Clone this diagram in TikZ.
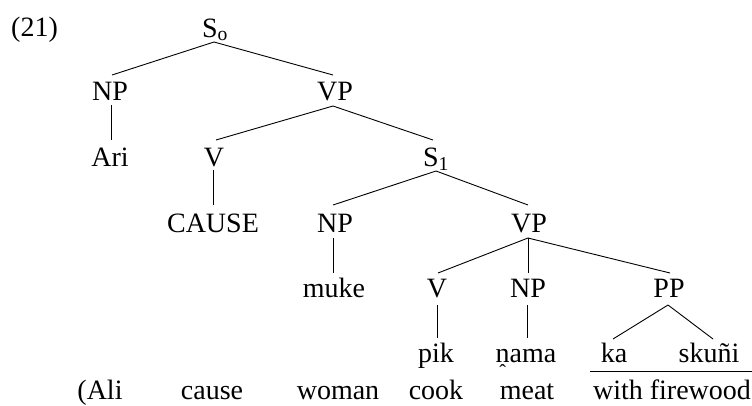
\documentclass[tikz,border=0pt]{standalone}
\usepackage{fontspec}
\setmainfont{Liberation Serif}
\newcommand\ncircbelow{\leavevmode\ooalign{n\cr\hidewidth\raisebox{-16.5pt}{\fontsize{20}{20}\selectfont\char"02C6}\hidewidth\cr}}
\begin{document}
\begin{tikzpicture}[x=1pt,y=1pt,
  lbl/.style={anchor=base,inner sep=0pt,font=\fontsize{28}{32}\selectfont},
  edge/.style={line width=0.9pt}]
\useasboundingbox (0,0) rectangle (752,-405);
% labels
\node[lbl,anchor=base west] (ex) at (11,-36) {(21)};
\node[lbl] (so) at (215,-37) {S\textsubscript{o}};
\node[lbl] (np1) at (110,-100) {NP};
\node[lbl] (vp1) at (335,-100) {VP};
\node[lbl] (ari) at (110,-166) {Ari};
\node[lbl] (v1) at (214,-166) {V};
\node[lbl] (s1) at (436,-166) {S\textsubscript{1}};
\node[lbl] (cause) at (213,-232) {CAUSE};
\node[lbl] (np2) at (335,-232) {NP};
\node[lbl] (vp2) at (529,-232) {VP};
\node[lbl] (muke) at (334,-297) {muke};
\node[lbl] (v2) at (437,-297) {V};
\node[lbl] (np3) at (528,-297) {NP};
\node[lbl] (pp) at (669,-297) {PP};
\node[lbl] (pik) at (436,-362) {pik};
\node[lbl] (nama) at (526,-362) {\ncircbelow ama};
\node[lbl] (ka) at (614,-362) {ka};
\node[lbl] (skuni) at (709,-362) {skuñi};
\node[lbl] (gali) at (100,-399) {(Ali};
\node[lbl] (gcause) at (212,-399) {cause};
\node[lbl] (gwoman) at (338,-399) {woman};
\node[lbl] (gcook) at (436,-399) {cook};
\node[lbl] (gmeat) at (527,-399) {meat};
\node[lbl] (gwith) at (672,-399) {with firewood};
% underline
\coordinate (ul1) at (590,-371);
\coordinate (ul2) at (752,-371);
\draw[edge] (ul1) -- (ul2);
% tree edges
\draw[edge] ([xshift=-1pt,yshift=-5pt]so.base) -- ([xshift=2pt,yshift=25pt]np1.base);
\draw[edge] ([xshift=-1pt,yshift=-5pt]so.base) -- ([xshift=-2pt,yshift=25pt]vp1.base);
\draw[edge] ([xshift=1pt,yshift=-5pt]np1.base) -- ([xshift=1pt,yshift=26pt]ari.base);
\draw[edge] ([xshift=-2pt,yshift=-6pt]vp1.base) -- ([xshift=2pt,yshift=26pt]v1.base);
\draw[edge] ([xshift=-2pt,yshift=-6pt]vp1.base) -- ([xshift=-3pt,yshift=26pt]s1.base);
\draw[edge] ([xshift=-1pt,yshift=-4pt]v1.base) -- ([yshift=27pt]cause.base);
\draw[edge] ([yshift=-5pt]s1.base) -- ([xshift=-2pt,yshift=27pt]np2.base);
\draw[edge] ([yshift=-5pt]s1.base) -- ([xshift=-1pt,yshift=27pt]vp2.base);
\draw[edge] ([xshift=-2pt,yshift=-6pt]np2.base) -- ([xshift=-1pt,yshift=24pt]muke.base);
\draw[edge] ([xshift=-1pt,yshift=-6pt]vp2.base) -- ([xshift=1pt,yshift=24pt]v2.base);
\draw[edge] ([xshift=-1pt,yshift=-6pt]vp2.base) -- ([xshift=0pt,yshift=24pt]np3.base);
\draw[edge] ([xshift=-1pt,yshift=-6pt]vp2.base) -- ([xshift=1pt,yshift=24pt]pp.base);
\draw[edge] ([yshift=-8pt]v2.base) -- ([xshift=1pt,yshift=24pt]pik.base);
\draw[edge] ([xshift=-1pt,yshift=-8pt]np3.base) -- ([xshift=1pt,yshift=24pt]nama.base);
\draw[edge] ([xshift=-1pt,yshift=-8pt]pp.base) -- ([xshift=-1pt,yshift=23pt]ka.base);
\draw[edge] ([xshift=-1pt,yshift=-8pt]pp.base) -- ([xshift=4pt,yshift=23pt]skuni.base);
\end{tikzpicture}
\end{document}
